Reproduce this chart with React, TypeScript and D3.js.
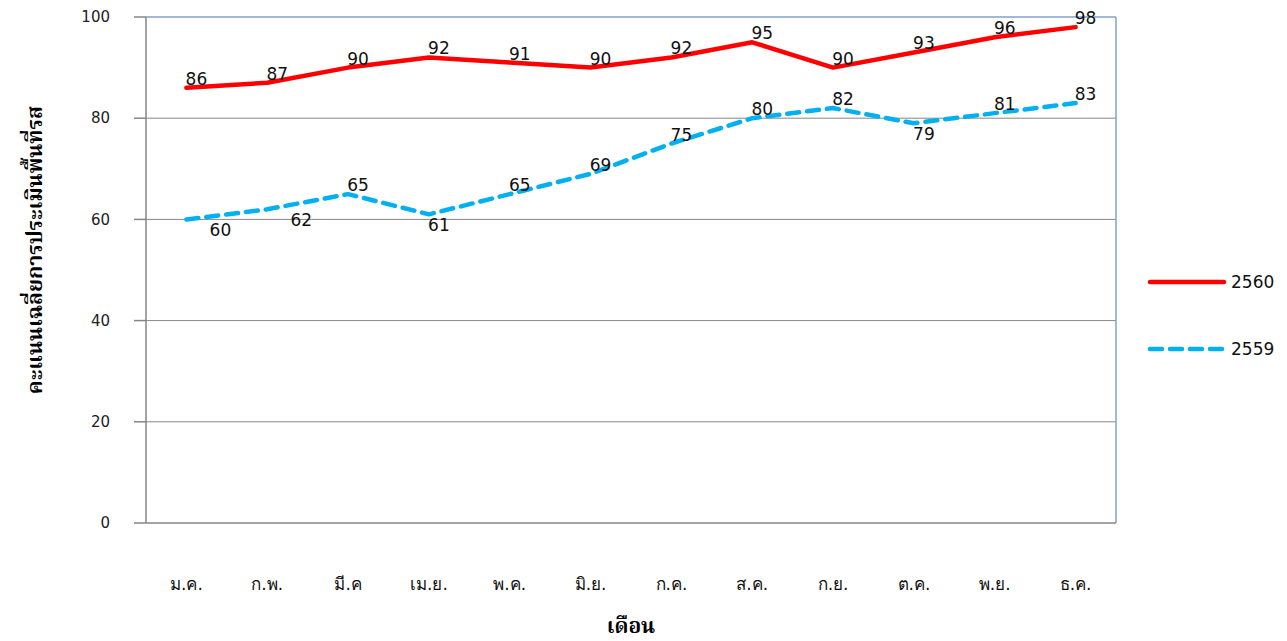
import * as d3 from "d3";

const months = ["ม.ค.", "ก.พ.", "มี.ค", "เม.ย.", "พ.ค.", "มิ.ย.", "ก.ค.", "ส.ค.", "ก.ย.", "ต.ค.", "พ.ย.", "ธ.ค."];
const series2560 = [86, 87, 90, 92, 91, 90, 92, 95, 90, 93, 96, 98];
const series2559 = [60, 62, 65, 61, 65, 69, 75, 80, 82, 79, 81, 83];
const yTicks = [0, 20, 40, 60, 80, 100];
// where the value label goes for each point of 2559 (2560 is always above)
const place2559 = ["belowRight", "belowRight", "above", "below", "above", "above", "above", "above", "above", "below", "above", "above"];

function App() {
	const width = 1287;
	const height = 641;
	const left = 146;
	const right = 1116;
	const top = 17;
	const bottom = 523;

	const x = d3.scaleBand<string>().domain(months).range([left, right]).padding(0);
	const y = d3.scaleLinear().domain([0, 100]).range([bottom, top]);
	const cx = (m: string) => (x(m) as number) + x.bandwidth() / 2;

	const line = d3
		.line<number>()
		.x((_, i) => cx(months[i]))
		.y((d) => y(d));

	const labelFont = "Tahoma, 'DejaVu Sans', sans-serif";
	const thaiSerif = "'Liberation Serif', 'Noto Serif Thai', serif";

	return (
		<svg width={width} height={height} style={{ position: "absolute", left: 0, top: 0 }}>
			<rect width={width} height={height} fill="#fff" />
			{/* grid */}
			{yTicks.filter((t) => t > 0 && t < 100).map((t) => (
				<line key={t} x1={left} x2={right} y1={y(t)} y2={y(t)} stroke="#868686" strokeWidth={1} />
			))}
			{/* frame top / right */}
			<line x1={left} x2={right} y1={top} y2={top} stroke="#7FA0D0" strokeWidth={1.5} />
			<line x1={right} x2={right} y1={top} y2={bottom} stroke="#7FA0D0" strokeWidth={1.5} />
			{/* axes */}
			<line x1={left} x2={left} y1={top} y2={bottom} stroke="#868686" strokeWidth={1.5} />
			<line x1={left} x2={right} y1={bottom} y2={bottom} stroke="#868686" strokeWidth={1.5} />
			{yTicks.map((t) => (
				<g key={t}>
					<line x1={left - 12} x2={left} y1={y(t)} y2={y(t)} stroke="#868686" strokeWidth={1.5} />
					<text x={110} y={y(t)} dy="0.35em" textAnchor="end" fontSize={15} fontFamily={labelFont} fill="#222">
						{t}
					</text>
				</g>
			))}
			{months.map((m) => (
				<text key={m} x={cx(m)} y={590} textAnchor="middle" fontSize={17} fontFamily={labelFont} fill="#111">
					{m}
				</text>
			))}
			{/* lines */}
			<path d={line(series2560) as string} fill="none" stroke="#FF0000" strokeWidth={4.5} strokeLinejoin="round" strokeLinecap="round" />
			<path
				d={line(series2559) as string}
				fill="none"
				stroke="#00B0F0"
				strokeWidth={4.5}
				strokeDasharray="12 8"
				strokeLinecap="round"
				strokeLinejoin="round"
			/>
			{/* value labels */}
			{series2560.map((v, i) => (
				<text key={"a" + i} x={cx(months[i]) + 10} y={y(v) - 3} textAnchor="middle" fontSize={17} fontFamily={labelFont} fill="#111">
					{v}
				</text>
			))}
			{series2559.map((v, i) => {
				const p = place2559[i];
				const dx = p === "belowRight" ? 34 : 10;
				const dy = p === "above" ? -3 : 17;
				return (
					<text key={"b" + i} x={cx(months[i]) + dx} y={y(v) + dy} textAnchor="middle" fontSize={17} fontFamily={labelFont} fill="#111">
						{v}
					</text>
				);
			})}
			{/* legend */}
			<line x1={1150} x2={1224} y1={282} y2={282} stroke="#FF0000" strokeWidth={4.5} strokeLinecap="round" />
			<text x={1231} y={282} dy="0.35em" fontSize={17} fontFamily={labelFont} fill="#111">2560</text>
			<line x1={1150} x2={1224} y1={349} y2={349} stroke="#00B0F0" strokeWidth={4.5} strokeDasharray="12 8" strokeLinecap="round" />
			<text x={1231} y={349} dy="0.35em" fontSize={17} fontFamily={labelFont} fill="#111">2559</text>
			{/* axis titles */}
			<text
				transform={`translate(42, ${(top + bottom) / 2 - 20}) rotate(-90)`}
				textAnchor="middle"
				fontSize={21}
				fontWeight="bold"
				fontFamily={thaiSerif}
				fill="#000"
			>
				คะแนนเฉลี่ยการประเมินพื้นที่รส
			</text>
			<text x={631} y={633} textAnchor="middle" fontSize={21} fontWeight="bold" fontFamily={thaiSerif} fill="#000">
				เดือน
			</text>
		</svg>
	);
}
export default App;
